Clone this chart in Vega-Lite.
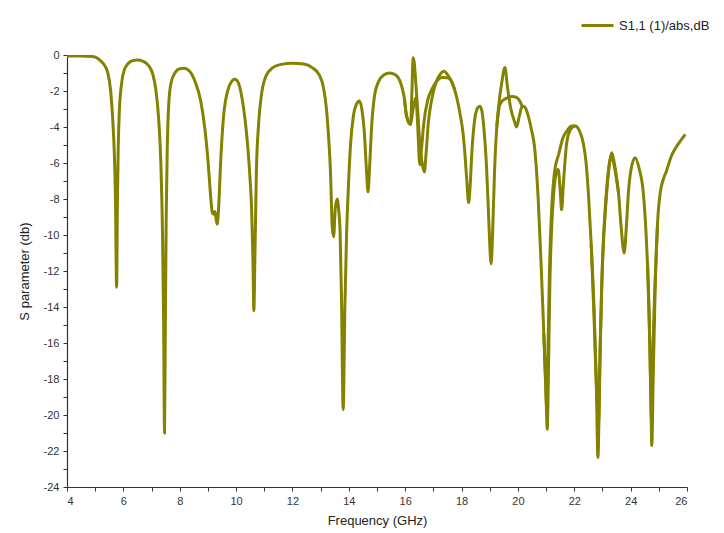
{
  "$schema": "https://vega.github.io/schema/vega-lite/v6.json",
  "autosize": "none",
  "width": 620,
  "height": 432,
  "padding": {"left": 67, "top": 55, "right": 37, "bottom": 46},
  "background": "white",
  "config": {
    "view": {"stroke": null},
    "font": "Liberation Sans",
    "axis": {"domainColor": "#333333", "tickColor": "#333333", "labelColor": "#333333", "titleColor": "#222222", "labelFont": "Liberation Sans", "titleFont": "Liberation Sans", "labelFontSize": 11, "titleFontSize": 13, "titleFontWeight": "normal", "grid": false, "tickSize": 4, "domainWidth": 1.2, "tickWidth": 1, "labelOverlap": false}
  },
  "datasets": {
    "A": [
      {"f":4.0,"db":-0.05},{"f":4.5,"db":-0.05},{"f":4.9,"db":-0.08},{"f":5.1,"db":-0.2},{"f":5.3,"db":-0.5},{"f":5.45,"db":-1.0},{"f":5.55,"db":-2.0},{"f":5.62,"db":-3.5},{"f":5.68,"db":-5.5},{"f":5.72,"db":-8.0},{"f":5.76,"db":-12.9},{"f":5.79,"db":-8.0},{"f":5.82,"db":-5.0},{"f":5.86,"db":-3.0},{"f":5.92,"db":-1.8},{"f":6.0,"db":-1.0},{"f":6.15,"db":-0.5},{"f":6.35,"db":-0.3},{"f":6.5,"db":-0.28},{"f":6.7,"db":-0.35},{"f":6.9,"db":-0.6},{"f":7.05,"db":-1.1},{"f":7.15,"db":-1.9},{"f":7.25,"db":-3.5},{"f":7.33,"db":-6.0},{"f":7.39,"db":-10.0},{"f":7.43,"db":-15.0},{"f":7.46,"db":-21.0},{"f":7.49,"db":-15.0},{"f":7.52,"db":-9.0},{"f":7.56,"db":-5.0},{"f":7.62,"db":-2.5},{"f":7.7,"db":-1.5},{"f":7.85,"db":-0.95},{"f":8.0,"db":-0.76},{"f":8.15,"db":-0.74},{"f":8.35,"db":-0.9},{"f":8.55,"db":-1.5},{"f":8.75,"db":-2.6},{"f":8.9,"db":-4.2},{"f":9.0,"db":-5.8},{"f":9.08,"db":-7.5},{"f":9.15,"db":-8.7},{"f":9.2,"db":-8.85},{"f":9.25,"db":-8.7},{"f":9.3,"db":-9.2},{"f":9.33,"db":-9.4},{"f":9.38,"db":-8.5},{"f":9.45,"db":-6.0},{"f":9.55,"db":-3.5},{"f":9.7,"db":-2.0},{"f":9.85,"db":-1.45},{"f":9.95,"db":-1.35},{"f":10.05,"db":-1.45},{"f":10.2,"db":-2.3},{"f":10.32,"db":-3.6},{"f":10.42,"db":-5.2},{"f":10.5,"db":-7.0},{"f":10.55,"db":-8.5},{"f":10.6,"db":-11.5},{"f":10.63,"db":-14.2},{"f":10.67,"db":-11.0},{"f":10.72,"db":-6.5},{"f":10.8,"db":-3.8},{"f":10.9,"db":-2.2},{"f":11.05,"db":-1.2},{"f":11.3,"db":-0.7},{"f":11.6,"db":-0.52},{"f":12.0,"db":-0.46},{"f":12.4,"db":-0.5},{"f":12.7,"db":-0.7},{"f":12.95,"db":-1.1},{"f":13.1,"db":-1.8},{"f":13.2,"db":-2.9},{"f":13.28,"db":-4.5},{"f":13.35,"db":-6.5},{"f":13.41,"db":-9.5},{"f":13.46,"db":-10.1},{"f":13.52,"db":-8.5},{"f":13.59,"db":-8.0},{"f":13.64,"db":-8.6},{"f":13.69,"db":-9.8},{"f":13.74,"db":-13.5},{"f":13.8,"db":-19.7},{"f":13.86,"db":-14.0},{"f":13.92,"db":-10.0},{"f":13.98,"db":-7.5},{"f":14.06,"db":-5.0},{"f":14.16,"db":-3.4},{"f":14.28,"db":-2.7},{"f":14.37,"db":-2.55},{"f":14.45,"db":-2.9},{"f":14.55,"db":-4.3},{"f":14.63,"db":-6.5},{"f":14.68,"db":-7.6},{"f":14.73,"db":-6.5},{"f":14.8,"db":-4.2},{"f":14.9,"db":-2.4},{"f":15.05,"db":-1.5},{"f":15.25,"db":-1.1},{"f":15.45,"db":-1.0},{"f":15.65,"db":-1.1},{"f":15.85,"db":-1.6},{"f":15.97,"db":-2.4},{"f":16.05,"db":-3.4},{"f":16.19,"db":-3.86},{"f":16.24,"db":-2.0},{"f":16.28,"db":-0.15},{"f":16.32,"db":-0.4},{"f":16.38,"db":-1.63},{"f":16.45,"db":-3.2},{"f":16.52,"db":-4.97},{"f":16.6,"db":-6.0},{"f":16.68,"db":-6.5},{"f":16.74,"db":-5.5},{"f":16.82,"db":-3.8},{"f":16.95,"db":-2.4},{"f":17.1,"db":-1.5},{"f":17.25,"db":-1.05},{"f":17.38,"db":-0.9},{"f":17.48,"db":-1.05},{"f":17.62,"db":-1.4},{"f":17.75,"db":-1.9},{"f":17.85,"db":-2.5},{"f":17.95,"db":-3.3},{"f":18.05,"db":-4.3},{"f":18.13,"db":-5.7},{"f":18.2,"db":-7.3},{"f":18.25,"db":-8.2},{"f":18.3,"db":-7.4},{"f":18.37,"db":-5.3},{"f":18.45,"db":-3.8},{"f":18.55,"db":-3.0},{"f":18.65,"db":-2.85},{"f":18.72,"db":-3.1},{"f":18.8,"db":-4.2},{"f":18.88,"db":-6.0},{"f":18.95,"db":-8.5},{"f":19.0,"db":-10.5},{"f":19.05,"db":-11.6},{"f":19.1,"db":-10.0},{"f":19.17,"db":-6.5},{"f":19.25,"db":-4.0},{"f":19.32,"db":-2.8},{"f":19.42,"db":-1.6},{"f":19.54,"db":-0.7},{"f":19.63,"db":-1.8},{"f":19.75,"db":-3.0},{"f":19.88,"db":-3.7},{"f":19.95,"db":-4.0},{"f":20.05,"db":-3.4},{"f":20.15,"db":-2.85},{"f":20.25,"db":-2.9},{"f":20.35,"db":-3.3},{"f":20.48,"db":-4.14},{"f":20.6,"db":-5.25},{"f":20.72,"db":-8.0},{"f":20.82,"db":-11.5},{"f":20.92,"db":-15.5},{"f":21.0,"db":-19.0},{"f":21.04,"db":-20.8},{"f":21.08,"db":-18.0},{"f":21.13,"db":-13.0},{"f":21.2,"db":-9.5},{"f":21.28,"db":-7.5},{"f":21.35,"db":-6.6},{"f":21.43,"db":-6.36},{"f":21.5,"db":-7.5},{"f":21.55,"db":-8.6},{"f":21.62,"db":-7.0},{"f":21.73,"db":-4.9},{"f":21.85,"db":-4.2},{"f":22.03,"db":-3.95},{"f":22.18,"db":-4.2},{"f":22.32,"db":-4.9},{"f":22.42,"db":-6.0},{"f":22.5,"db":-7.66},{"f":22.6,"db":-10.5},{"f":22.7,"db":-14.0},{"f":22.78,"db":-18.0},{"f":22.84,"db":-22.36},{"f":22.9,"db":-18.0},{"f":22.97,"db":-13.0},{"f":23.05,"db":-10.0},{"f":23.15,"db":-7.66},{"f":23.27,"db":-5.8},{"f":23.33,"db":-5.43},{"f":23.42,"db":-6.0},{"f":23.5,"db":-6.8},{"f":23.57,"db":-7.66},{"f":23.66,"db":-9.5},{"f":23.77,"db":-11.0},{"f":23.85,"db":-9.5},{"f":23.92,"db":-7.66},{"f":24.02,"db":-6.3},{"f":24.16,"db":-5.71},{"f":24.3,"db":-6.3},{"f":24.45,"db":-7.66},{"f":24.55,"db":-10.0},{"f":24.65,"db":-14.0},{"f":24.72,"db":-19.0},{"f":24.75,"db":-21.7},{"f":24.8,"db":-18.0},{"f":24.87,"db":-13.0},{"f":24.95,"db":-9.5},{"f":25.05,"db":-7.66},{"f":25.29,"db":-6.36},{"f":25.45,"db":-5.6},{"f":25.64,"db":-5.06},{"f":25.8,"db":-4.7},{"f":25.94,"db":-4.41}
    ],
    "B": [
      {"seg":"B1","f":15.97,"db":-2.4},{"seg":"B1","f":16.05,"db":-3.4},{"seg":"B1","f":16.19,"db":-3.86},{"seg":"B1","f":16.28,"db":-3.0},{"seg":"B1","f":16.38,"db":-2.37},{"seg":"B1","f":16.44,"db":-3.8},{"seg":"B1","f":16.52,"db":-6.1},{"seg":"B1","f":16.58,"db":-5.2},{"seg":"B1","f":16.66,"db":-3.8},{"seg":"B1","f":16.8,"db":-2.5},{"seg":"B1","f":16.95,"db":-1.9},{"seg":"B1","f":17.1,"db":-1.5},{"seg":"B1","f":17.3,"db":-1.25},{"seg":"B1","f":17.5,"db":-1.26},{"seg":"B1","f":17.62,"db":-1.4},{"seg":"B1","f":17.75,"db":-1.9},
      {"seg":"B2","f":19.25,"db":-4.0},{"seg":"B2","f":19.35,"db":-2.8},{"seg":"B2","f":19.45,"db":-2.55},{"seg":"B2","f":19.6,"db":-2.4},{"seg":"B2","f":19.8,"db":-2.3},{"seg":"B2","f":19.95,"db":-2.35},{"seg":"B2","f":20.08,"db":-2.6},{"seg":"B2","f":20.15,"db":-2.85},
      {"seg":"B3","f":20.92,"db":-15.5},{"seg":"B3","f":20.98,"db":-18.0},{"seg":"B3","f":21.02,"db":-19.5},{"seg":"B3","f":21.06,"db":-17.0},{"seg":"B3","f":21.12,"db":-12.0},{"seg":"B3","f":21.2,"db":-8.5},{"seg":"B3","f":21.3,"db":-6.5},{"seg":"B3","f":21.45,"db":-5.5},{"seg":"B3","f":21.6,"db":-4.6},{"seg":"B3","f":21.75,"db":-4.2},{"seg":"B3","f":21.9,"db":-3.95},{"seg":"B3","f":22.03,"db":-3.95},
      {"seg":"B4","f":22.6,"db":-10.5},{"seg":"B4","f":22.7,"db":-14.5},{"seg":"B4","f":22.8,"db":-19.0},{"seg":"B4","f":22.86,"db":-20.5},{"seg":"B4","f":22.92,"db":-16.0},{"seg":"B4","f":23.0,"db":-11.5},{"seg":"B4","f":23.1,"db":-8.5},{"seg":"B4","f":23.2,"db":-6.6},{"seg":"B4","f":23.3,"db":-5.7},{"seg":"B4","f":23.38,"db":-5.9},{"seg":"B4","f":23.5,"db":-6.9},{"seg":"B4","f":23.57,"db":-7.66},
      {"seg":"B5","f":24.6,"db":-11.5},{"seg":"B5","f":24.68,"db":-16.0},{"seg":"B5","f":24.74,"db":-20.3},{"seg":"B5","f":24.79,"db":-16.5},{"seg":"B5","f":24.87,"db":-12.5},{"seg":"B5","f":24.95,"db":-9.5}
    ]
  },
  "encoding": {
    "x": {"field": "f", "type": "quantitative", "scale": {"domain": [4, 26], "nice": false, "zero": false},
      "axis": {"title": "Frequency (GHz)", "values": [4,5,6,7,8,9,10,11,12,13,14,15,16,17,18,19,20,21,22,23,24,25,26], "labelExpr": "datum.value % 2 == 0 ? '' + datum.value : ''", "labelOverlap": false, "labelPadding": 4, "titlePadding": 8}},
    "y": {"field": "db", "type": "quantitative", "scale": {"domain": [-24, 0], "nice": false, "zero": false},
      "axis": {"title": "S parameter (db)", "values": [-24,-23,-22,-21,-20,-19,-18,-17,-16,-15,-14,-13,-12,-11,-10,-9,-8,-7,-6,-5,-4,-3,-2,-1,0], "labelExpr": "abs(datum.value) % 2 == 0 ? '' + datum.value : ''", "labelOverlap": false, "labelPadding": 4, "titlePadding": 12}},
    "order": {"field": "f", "type": "quantitative"},
    "color": {"field": "series", "type": "nominal", "scale": {"range": ["#848200"]},
      "legend": {"title": null, "orient": "none", "legendX": 513, "legendY": -47, "symbolType": "stroke", "symbolSize": 1024, "symbolStrokeWidth": 3, "labelFontSize": 13, "labelColor": "#222222", "labelFont": "Liberation Sans", "padding": 0}}
  },
  "layer": [
    {
      "data": {"name": "A"},
      "transform": [{"calculate": "'S1,1 (1)/abs,dB'", "as": "series"}],
      "mark": {"type": "line", "strokeWidth": 3, "clip": true, "interpolate": "monotone"}
    },
    {
      "data": {"name": "B"},
      "transform": [{"calculate": "'S1,1 (1)/abs,dB'", "as": "series"}],
      "mark": {"type": "line", "strokeWidth": 3, "clip": true, "interpolate": "monotone"},
      "encoding": {
        "detail": {"field": "seg", "type": "nominal"}
      }
    }
  ]
}
